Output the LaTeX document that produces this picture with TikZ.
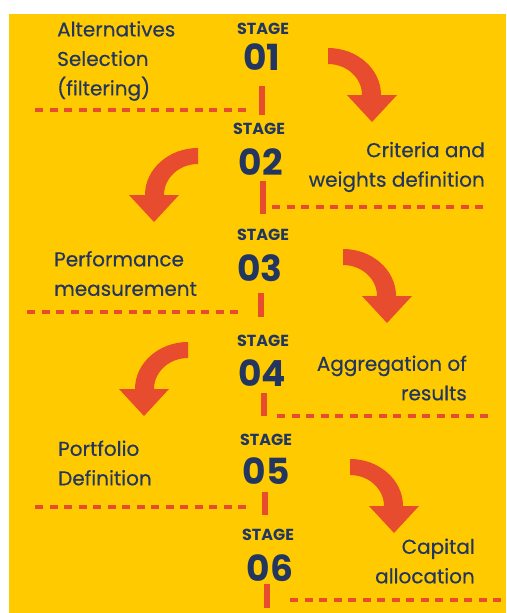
\documentclass[tikz,border=0pt]{standalone}
\usepackage{fontspec}
\setmainfont{Poppins}
\newfontfamily\bodyfont[FakeBold=0.4]{Poppins}
\definecolor{bgyellow}{RGB}{255,202,0}
\definecolor{arrowred}{RGB}{232,76,46}
\definecolor{navy}{RGB}{35,54,96}
\tikzset{
  turn/.pic={\fill[arrowred] (0,0) arc[start angle=270, end angle=360, x radius=53, y radius=47]
    -- (69,47) -- (44,74) -- (19,47) -- (34,47)
    arc[start angle=0, end angle=-90, x radius=34, y radius=31] -- cycle;},
  stagelbl/.style={text=navy, font=\bfseries\fontsize{16}{16}\selectfont, inner sep=0pt},
  stagenum/.style={text=navy, font=\bfseries\fontsize{36}{36}\selectfont, inner sep=0pt},
  steptext/.style={text=navy, font=\bodyfont\fontsize{20}{29.5}\selectfont, inner sep=0pt},
  sepline/.style={arrowred, line width=3.5pt, dash pattern=on 8pt off 6.5pt},
  stemline/.style={arrowred, line width=5.5pt}
}
\begin{document}
\begin{tikzpicture}[x=1pt, y=-1pt]
                \useasboundingbox (0, 0) rectangle (506, 613);
                \fill [white] (0, 0) rectangle (506, 613);
                \fill [bgyellow] (9, 14) rectangle (506, 613);
                % stage 01
                \node [stagelbl] (stage1) at (263, 29) {STAGE};
                \node [stagenum] (num1) at (262, 57) {01};
                \draw [stemline] (262, 86) -- (262, 115);
                \draw [sepline] (35, 110) -- (248, 110);
                \node [steptext, anchor=west, align=left] (step1) at (57, 61) {Alternatives\\Selection\\(filtering)};
                \pic at (328, 48) {turn};
                % stage 02
                \node [stagelbl] (stage2) at (259, 129) {STAGE};
                \node [stagenum] (num2) at (261, 162) {02};
                \draw [stemline] (263, 181) -- (263, 214);
                \draw [sepline] (272, 207) -- (485, 207);
                \node [steptext, anchor=east, align=right] (step2) at (485, 167) {Criteria and\\weights definition};
                \pic [xscale=-1] at (198, 148) {turn};
                % stage 03
                \node [stagelbl] (stage3) at (263, 235) {STAGE};
                \node [stagenum] (num3) at (260, 268) {03};
                \draw [stemline] (261, 293) -- (261, 317);
                \draw [sepline] (27, 312) -- (240, 312);
                \node [steptext, anchor=west, align=left] (step3) at (54, 273.5) {Performance\\measurement};
                \pic at (343, 249) {turn};
                % stage 04
                \node [stagelbl] (stage4) at (263, 341) {STAGE};
                \node [stagenum] (num4) at (262, 373) {04};
                \draw [stemline] (264, 393) -- (264, 416);
                \draw [sepline] (277, 416) -- (490, 416);
                \node [steptext, anchor=east, align=right] (step4) at (467, 378) {Aggregation of\\results};
                \pic [xscale=-1] at (188, 342) {turn};
                % stage 05
                \node [stagelbl] (stage5) at (266, 440) {STAGE};
                \node [stagenum] (num5) at (266, 471) {05};
                \draw [stemline] (265, 492) -- (265, 515);
                \draw [sepline] (35, 507) -- (248, 507);
                \node [steptext, anchor=west, align=left] (step5) at (58, 463) {Portfolio\\Definition};
                \pic at (350, 459) {turn};
                % stage 06
                \node [stagelbl] (stage6) at (268, 535) {STAGE};
                \node [stagenum] (num6) at (270, 568) {06};
                \draw [stemline] (267, 584) -- (267, 608);
                \draw [sepline] (290, 600) -- (506, 600);
                \node [steptext, anchor=east, align=right] (step6) at (475, 561) {Capital\\allocation};
\end{tikzpicture}
\end{document}
